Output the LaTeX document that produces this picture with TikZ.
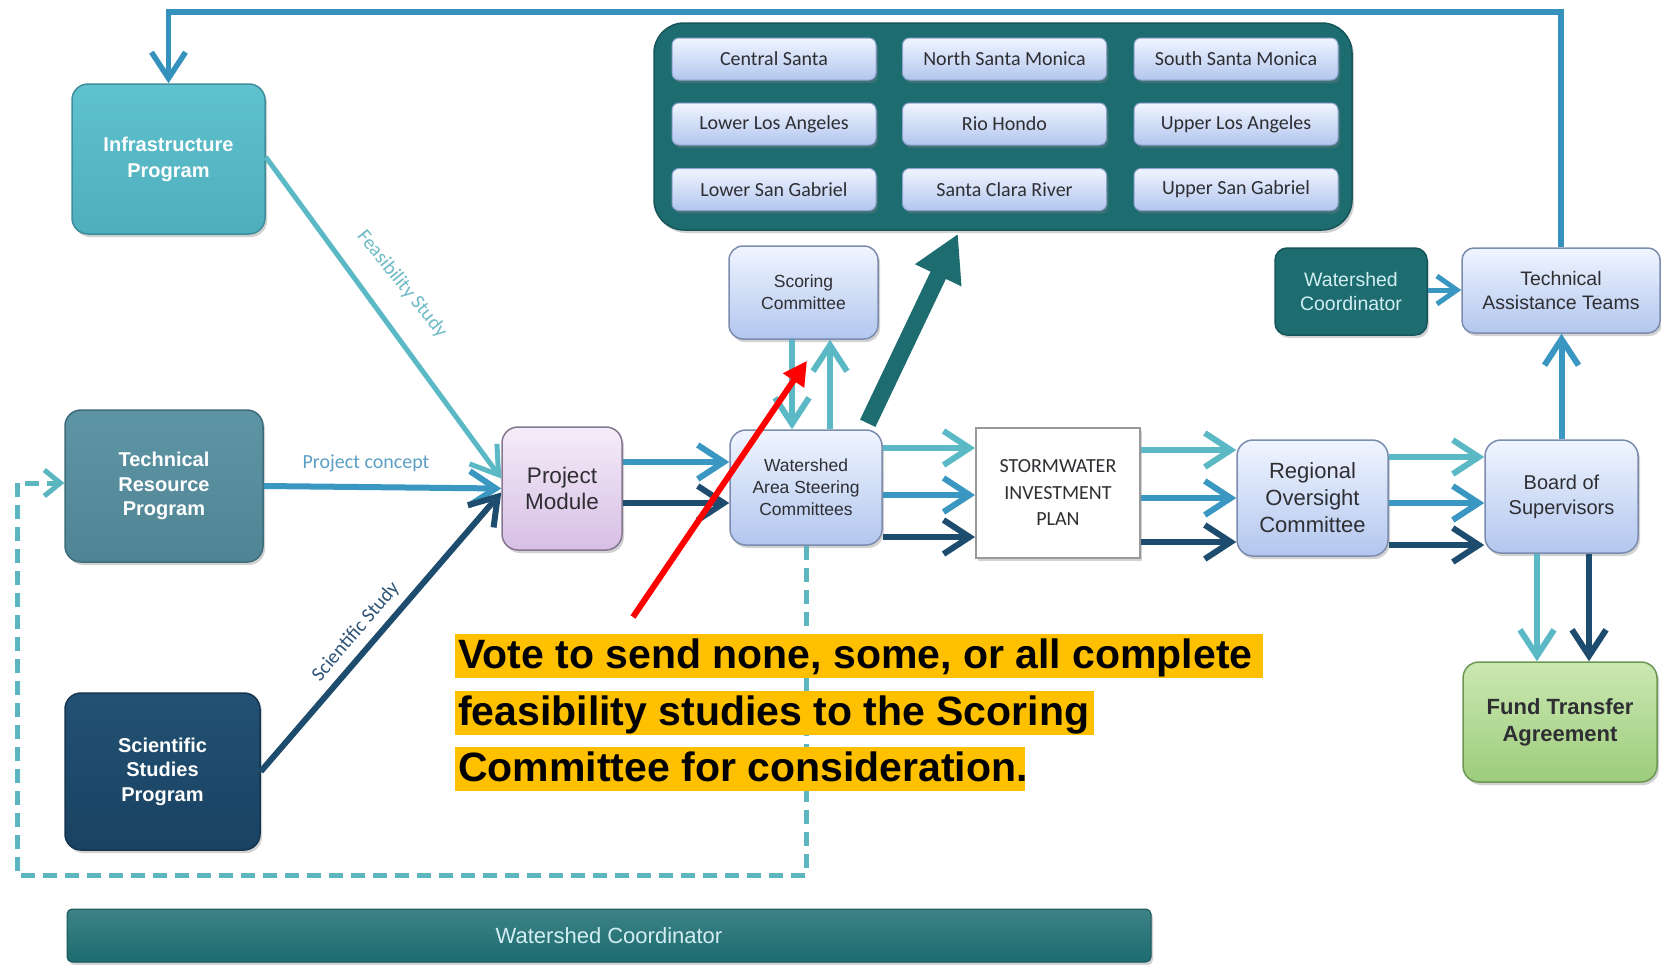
\documentclass[tikz,border=0pt]{standalone}
\usepackage{fontspec}
\setmainfont{Liberation Sans}
\newfontfamily\calfont{Carlito}
\usetikzlibrary{arrows.meta,shadows,calc}
\newcommand\myfs[2]{\fontsize{#1}{#2}\selectfont}
\definecolor{cLight}{HTML}{5BB9C6}
\definecolor{cMid}{HTML}{3A97C2}
\definecolor{cDark}{HTML}{1E4C6E}
\definecolor{cTop}{HTML}{3592BD}
\definecolor{cDash}{HTML}{5BB6C0}
\definecolor{wsTeal}{HTML}{1C6C70}
\definecolor{wsTealEdge}{HTML}{165559}
\definecolor{infraTop}{HTML}{60C2CE}
\definecolor{infraBot}{HTML}{4FAEBC}
\definecolor{infraEdge}{HTML}{3F8E9B}
\definecolor{trpTop}{HTML}{5E95A4}
\definecolor{trpBot}{HTML}{4F8494}
\definecolor{trpEdge}{HTML}{3D6C7A}
\definecolor{sspTop}{HTML}{225173}
\definecolor{sspBot}{HTML}{1A4262}
\definecolor{sspEdge}{HTML}{143650}
\definecolor{pmTop}{HTML}{F5ECF9}
\definecolor{pmBot}{HTML}{D6BFE4}
\definecolor{pmEdge}{HTML}{85778F}
\definecolor{blTop}{HTML}{F0F5FF}
\definecolor{blBot}{HTML}{B2C6EE}
\definecolor{blEdge}{HTML}{7C8CAE}
\definecolor{ftTop}{HTML}{CBE8B3}
\definecolor{ftBot}{HTML}{9CCC7B}
\definecolor{ftEdge}{HTML}{6C9853}
\definecolor{tileEdge}{HTML}{8EA3D0}
\definecolor{txtDark}{HTML}{2E2E33}
\definecolor{callY}{HTML}{FFC000}
\definecolor{lblFeas}{HTML}{6DBAC6}
\definecolor{lblProj}{HTML}{5C9EC4}
\definecolor{lblSci}{HTML}{2E5577}
\definecolor{wcText}{HTML}{D2EEF2}
\tikzset{
  shad/.style={drop shadow={opacity=0.35,shadow xshift=2pt,shadow yshift=-3pt}},
  box/.style={shad, rounded corners=16pt, align=center, inner sep=2pt, line width=1.5pt},
  infrabox/.style={box, top color=infraTop, bottom color=infraBot, draw=infraEdge, text=white, font=\myfs{20}{26}\bfseries},
  trpbox/.style={box, top color=trpTop, bottom color=trpBot, draw=trpEdge, text=white, font=\myfs{20}{24.5}\bfseries},
  sspbox/.style={box, top color=sspTop, bottom color=sspBot, draw=sspEdge, text=white, font=\myfs{20}{24.5}\bfseries},
  pmbox/.style={box, top color=pmTop, bottom color=pmBot, draw=pmEdge, text=txtDark, font=\myfs{22.5}{26}},
  bluebox/.style={box, top color=blTop, bottom color=blBot, draw=blEdge, text=txtDark},
  sipbox/.style={shad, fill=white, draw=gray!80, line width=2pt, align=center, text=txtDark, font=\calfont\myfs{20}{26.5}},
  wcbox/.style={box, rounded corners=12pt, fill=wsTeal, draw=wsTealEdge, text=wcText, font=\myfs{19.5}{24}},
  ftbox/.style={box, top color=ftTop, bottom color=ftBot, draw=ftEdge, text=txtDark, font=\myfs{22}{27}\bfseries},
  panelbox/.style={shad, rounded corners=30pt, fill=wsTeal, draw=wsTealEdge, line width=1.5pt},
  tile/.style={shad, rounded corners=7pt, top color=blTop, bottom color=blBot, draw=tileEdge, line width=1pt,
    minimum width=204pt, minimum height=42pt, text=txtDark, font=\calfont\myfs{20}{22}},
  barbox/.style={shad, rounded corners=5pt, top color=wsTeal!85!white, bottom color=wsTeal, draw=wsTealEdge,
    line width=1pt, text=wcText, font=\myfs{22}{24}},
  pipe/.style={line width=6pt, draw=#1, -{Straight Barb[length=26pt,width=34pt]}},
  dashline/.style={line width=5pt, draw=cDash, dash pattern=on 14pt off 8pt, -{Straight Barb[length=16pt,width=26pt]}},
  bigarr/.style={line width=17pt, draw=wsTeal, -{Triangle[length=46pt,width=48pt]}},
  redarr/.style={line width=6pt, draw=red, -{Triangle[length=24pt,width=24pt]}},
  callout/.style={anchor=north west, fill=callY, font=\myfs{41}{44}\bfseries, text=black,
    text height=33pt, text depth=9pt, inner ysep=1pt, inner xsep=3pt},
  lbl/.style={font=\calfont\myfs{20}{22}}
}
\begin{document}
\begin{tikzpicture}[x=1pt,y=-1pt]
\useasboundingbox[fill=white] (0,0) rectangle (1661,964);

% panel and tiles
\node[panelbox, minimum width=698pt, minimum height=207pt] (panel) at (1003,126.5) {};
\node[tile] (t11) at (774,59) {Central Santa};
\node[tile] (t12) at (1004.5,59) {North Santa Monica};
\node[tile] (t13) at (1236,59) {South Santa Monica};
\node[tile] (t21) at (774,124) {Lower Los Angeles};
\node[tile] (t22) at (1004.5,124) {Rio Hondo};
\node[tile] (t23) at (1236,124) {Upper Los Angeles};
\node[tile] (t31) at (774,189.5) {Lower San Gabriel};
\node[tile] (t32) at (1004.5,189.5) {Santa Clara River};
\node[tile] (t33) at (1236,189.5) {Upper San Gabriel};

% main nodes
\node[infrabox, minimum width=193pt, minimum height=150pt] (infra) at (168.5,159) {Infrastructure\\Program};
\node[trpbox, minimum width=198pt, minimum height=152pt] (trp) at (164,486) {Technical\\Resource\\Program};
\node[sspbox, minimum width=195pt, minimum height=157pt] (ssp) at (162.5,771.5) {Scientific\\Studies\\Program};
\node[pmbox, minimum width=120pt, minimum height=123pt] (pm) at (562,488.5) {Project\\Module};
\node[bluebox, minimum width=152pt, minimum height=115pt, font=\myfs{17.5}{22}] (wasc) at (806,487.5) {Watershed\\Area Steering\\Committees};
\node[bluebox, rounded corners=14pt, minimum width=149pt, minimum height=93pt, font=\myfs{17.5}{22}] (sc) at (803.5,292.5) {Scoring\\Committee};
\node[sipbox, minimum width=164pt, minimum height=130pt] (sip) at (1058,493) {STORMWATER\\INVESTMENT\\PLAN};
\node[bluebox, minimum width=151pt, minimum height=116pt, font=\myfs{22}{27}] (roc) at (1312.5,498) {Regional\\Oversight\\Committee};
\node[bluebox, minimum width=153pt, minimum height=113pt, font=\myfs{20}{25}] (bos) at (1561.5,496.5) {Board of\\Supervisors};
\node[bluebox, rounded corners=12pt, minimum width=198pt, minimum height=85pt, font=\myfs{19.5}{24}] (tat) at (1561,290.5) {Technical\\Assistance Teams};
\node[wcbox, minimum width=152pt, minimum height=87pt] (wc) at (1351,291.5) {Watershed\\Coordinator};
\node[ftbox, minimum width=194pt, minimum height=120pt] (fta) at (1560,722) {Fund Transfer\\Agreement};
\node[barbox, minimum width=1084pt, minimum height=53pt] (bar) at (609,935.5) {Watershed Coordinator};

% helper coordinates
\coordinate (topl) at (168.5,12);
\coordinate (dbl) at (17,875);
\coordinate (trpin) at ([yshift=3pt]trp.west);

% top loop
\draw[pipe=cTop, line width=5.5pt, line join=miter] (tat.north) -- (tat.north |- topl) -- (topl) -- (infra.north);

% dashed feedback
\draw[dashline] (wasc.south) -- (wasc.south |- dbl) -- (dbl) -- (dbl |- trpin) -- (trpin);

% inputs to project module
\draw[pipe=cLight, line width=5pt] ([yshift=2pt]infra.east) -- ([yshift=10pt]pm.west);
\draw[pipe=cMid] (trp.east) -- (pm.west);
\draw[pipe=cDark] (ssp.east) -- ([yshift=-4pt]pm.west);

% labels
\node[lbl, text=lblProj] (lpc) at (366,463) {Project concept};
\node[lbl, text=lblFeas, rotate=-51] (lfs) at (402,284) {Feasibility Study};
\node[lbl, text=lblSci, rotate=49.5] (lss) at (356,632) {Scientific Study};

% PM -> WASC
\draw[pipe=cMid] ([yshift=26.5pt]pm.east) -- ([yshift=26.5pt]pm.east -| wasc.west);
\draw[pipe=cDark] ([yshift=-14.5pt]pm.east) -- ([yshift=-14.5pt]pm.east -| wasc.west);

% WASC <-> SC
\draw[pipe=cLight] ([xshift=-11.5pt]sc.south) -- ([xshift=-11.5pt]sc.south |- wasc.north);
\draw[pipe=cLight] ([xshift=26.5pt]sc.south |- wasc.north) -- ([xshift=26.5pt]sc.south);

% big arrow to panel
\draw[bigarr] ([xshift=-15pt,yshift=6pt]wasc.north east) -- ([xshift=-45pt,yshift=-3pt]panel.south);

% WASC -> SIP
\draw[pipe=cLight] ([yshift=39.5pt]wasc.east) -- ([yshift=39.5pt]wasc.east -| sip.west);
\draw[pipe=cMid] ([yshift=-7.5pt]wasc.east) -- ([yshift=-7.5pt]wasc.east -| sip.west);
\draw[pipe=cDark] ([yshift=-49.5pt]wasc.east) -- ([yshift=-49.5pt]wasc.east -| sip.west);

% SIP -> ROC
\draw[pipe=cLight] ([yshift=43pt]sip.east) -- ([yshift=43pt]sip.east -| roc.west);
\draw[pipe=cMid] ([yshift=-5pt]sip.east) -- ([yshift=-5pt]sip.east -| roc.west);
\draw[pipe=cDark] ([yshift=-49pt]sip.east) -- ([yshift=-49pt]sip.east -| roc.west);

% ROC -> BoS
\draw[pipe=cLight] ([yshift=41pt]roc.east) -- ([yshift=41pt]roc.east -| bos.west);
\draw[pipe=cMid] ([yshift=-5pt]roc.east) -- ([yshift=-5pt]roc.east -| bos.west);
\draw[pipe=cDark] ([yshift=-47pt]roc.east) -- ([yshift=-47pt]roc.east -| bos.west);

% BoS -> TAT, FTA
\draw[pipe=cMid] (bos.north) -- (bos.north |- tat.south);
\draw[pipe=cLight] ([xshift=-24.5pt]bos.south) -- ([xshift=-24.5pt]bos.south |- fta.north);
\draw[pipe=cDark] ([xshift=27.5pt]bos.south) -- ([xshift=27.5pt]bos.south |- fta.north);

% WC -> TAT
\draw[pipe=cMid, line width=5pt, -{Straight Barb[length=20pt,width=28pt]}] ([yshift=1.5pt]wc.east) -- ([yshift=1.5pt]wc.east -| tat.west);

% callout
\node[callout] (l1) at (455,634) {\makebox[802pt][l]{Vote to send none, some, or all complete}};
\node[callout] (l2) at (455,691) {\makebox[633pt][l]{feasibility studies to the Scoring}};
\node[callout] (l3) at (455,747) {\makebox[564pt][l]{Committee for consideration.}};
\draw[redarr] ([xshift=178pt,yshift=17pt]l1.north west) -- ([xshift=3.5pt,yshift=-21pt]sc.south);
\end{tikzpicture}
\end{document}
